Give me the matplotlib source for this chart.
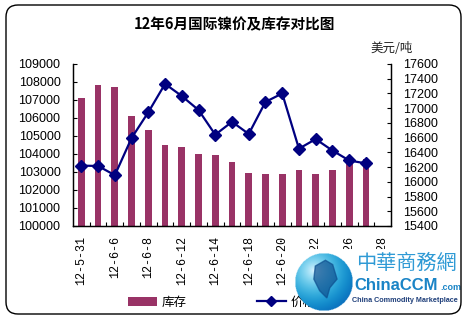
import matplotlib
matplotlib.use("Agg")
import matplotlib.pyplot as plt
import numpy as np
from matplotlib.patches import FancyBboxPatch, Rectangle, Patch
from matplotlib.lines import Line2D
from matplotlib.transforms import Bbox

plt.rcParams['font.family'] = ['Liberation Sans', 'Noto Sans CJK SC', 'DejaVu Sans']

# trading days (only every other one gets a label), the last slot is left empty
dates = ['12-5-31', '', '12-6-6', '', '12-6-8', '', '12-6-12', '', '12-6-14', '',
         '12-6-18', '', '12-6-20', '', '12-6-22', '', '12-6-26', '', '12-6-28']
# LME nickel stock, tonnes
stock = [107090, 107830, 107700, 106090, 105330, 104480, 104370, 103980, 103930,
         103540, 102930, 102890, 102890, 103090, 102890, 103110, 103540, 103700]
# LME nickel price, USD/t
price = [16220, 16215, 16090, 16595, 16945, 17330, 17165, 16975, 16640,
         16815, 16650, 17085, 17200, 16450, 16580, 16425, 16290, 16250]

fig = plt.figure(figsize=(4.69, 3.22), dpi=100)
fig.patch.set_facecolor('white')

ax = fig.add_axes([73/469, 1-226/322, (391-73)/469, (226-64)/322])
ax2 = ax.twinx()

x = np.arange(len(stock))
ax.bar(x, stock, width=0.4, color='#993366', zorder=2)
ax2.plot(x, price, color='#000080', lw=1.6, marker='D', ms=6.5,
         mec='#000080', mfc='#000080', zorder=3)

ax.set_xlim(-0.5, len(dates) - 0.5)
ax.set_ylim(100000, 109000)
ax.set_yticks(np.arange(100000, 109001, 1000))
ax2.set_ylim(15400, 17600)
ax2.set_yticks(np.arange(15400, 17601, 200))

ax.set_xticks(np.arange(0, len(dates), 2))
ax.set_xticklabels(dates[::2], rotation=90, family='Liberation Mono', fontsize=8.5)
ax.set_xticks(np.arange(0.5, len(dates) - 1, 1), minor=True)
ax.tick_params(axis='x', which='major', length=0, pad=7)
ax.tick_params(axis='x', which='minor', direction='in', length=3, width=0.8)
ax.tick_params(axis='y', direction='in', length=3, width=0.8, pad=9, labelsize=9)
ax2.tick_params(axis='y', direction='in', length=3, width=0.8, pad=9, labelsize=9)

# the logo sits over the lower part of the last date labels
cut = Bbox([[0, 322 - 249], [469, 322]])
for lab in ax.get_xticklabels()[7:]:
    lab.set_clip_box(cut)
    lab.set_clip_on(True)

for a in (ax, ax2):
    a.spines['top'].set_visible(False)
    for s in ('left', 'right', 'bottom'):
        a.spines[s].set_linewidth(0.9)
ax.set_zorder(ax2.get_zorder() - 1)
ax2.patch.set_visible(False)
ax.set_facecolor('none')

fig.text(0.499, 1-24/322, '12年6月国际镍价及库存对比图', ha='center', va='center',
         fontsize=10.5, fontweight='bold', family=['Noto Sans CJK SC'])
fig.text(392/469, 1-48/322, '美元/吨', ha='center', va='center', fontsize=9,
         family=['Noto Sans CJK SC'], color='#222222')

handles = [Patch(facecolor='#993366', edgecolor='none'),
           Line2D([], [], color='#000080', lw=1.6, marker='D', ms=5.5)]
fig.legend(handles, ['库存', '价格'], loc='center', bbox_to_anchor=(222/469, 1-302/322),
           ncol=2, frameon=False, handlelength=2.3, handletextpad=0.4,
           columnspacing=5.6, prop={'family': 'Noto Sans CJK SC', 'size': 9})

# rounded outer frame
fig.patches.append(FancyBboxPatch((0.06, 0.08), 4.55, 3.09,
                                  boxstyle='round,pad=0,rounding_size=0.12',
                                  transform=fig.dpi_scale_trans, fill=False,
                                  ec='black', lw=1.0, zorder=10))

# watermark logo in the bottom right corner
fig.patches.append(Rectangle((2.915, 0.09), 1.69, 0.64, transform=fig.dpi_scale_trans,
                             fc='white', ec='none', zorder=5))
gax = fig.add_axes([295/469, 1-311/322, 58/469, 58/322], zorder=6)
gx, gy = np.meshgrid(np.linspace(-1, 1, 120), np.linspace(-1, 1, 120))
r = np.hypot(gx, gy)
glow = np.hypot(gx + 0.35, gy + 0.4)
shade = np.clip(1 - glow / 1.5, 0, 1)
img = np.zeros((120, 120, 4))
img[..., 0] = 0.05 + 0.8 * shade ** 2
img[..., 1] = 0.45 + 0.5 * shade
img[..., 2] = 0.75 + 0.25 * shade
img[..., 3] = (r <= 1).astype(float)
gax.imshow(img, origin='upper', extent=(-1, 1, -1, 1))
gax.fill([-0.3, 0.05, 0.3, 0.45, 0.2, 0.1, -0.15, -0.35],
         [0.55, 0.75, 0.6, 0.1, -0.2, -0.55, -0.3, 0.1], color='#0d4f8f', alpha=0.7)
gax.set_xlim(-1, 1)
gax.set_ylim(-1, 1)
gax.axis('off')

fig.text(406/469, 1-263/322, '中華商務網', ha='center', va='center', fontsize=14.5,
         color='#2f9ad5', family=['Noto Sans CJK TC'], zorder=7)
fig.text(354/469, 1-285/322, 'ChinaCCM', ha='left', va='center', fontsize=12,
         fontweight='bold', color='#1a84c6', zorder=7)
fig.text(440/469, 1-288/322, '.com', ha='left', va='center', fontsize=6.5,
         fontweight='bold', color='#1a84c6', zorder=7)
fig.text(405/469, 1-300/322, 'China Commodity Marketplace', ha='center', va='center',
         fontsize=5.2, fontweight='bold', color='#1f3f7a', zorder=7)

fig.savefig('out.png', dpi=100)
